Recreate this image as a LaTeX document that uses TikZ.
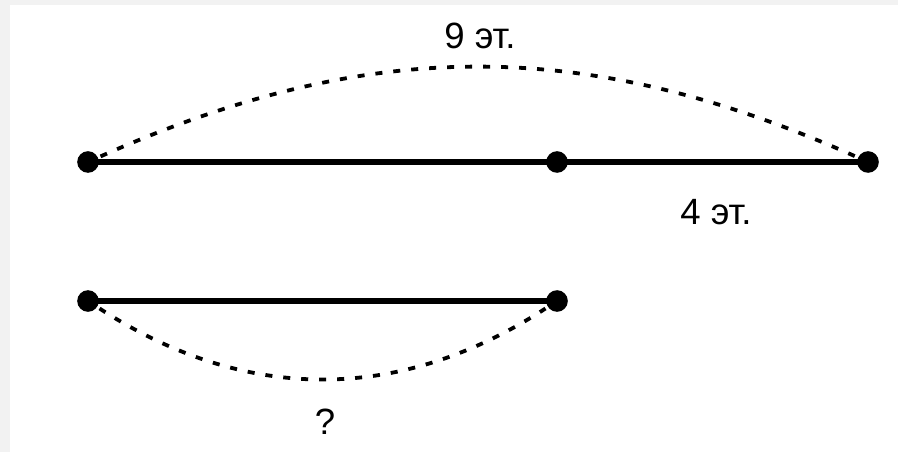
\documentclass[tikz,border=0pt]{standalone}
\usepackage{fontspec}
\setmainfont{Liberation Sans}
\begin{document}
\begin{tikzpicture}[x=.025cm,y=-.025cm,line width=4.2pt,
  dot/.style={circle,fill=black,inner sep=0pt,minimum size=.54cm},
  arc/.style={line width=2.7pt,dash pattern=on 5pt off 7.8pt},
  lbl/.style={font=\fontsize{26}{30}\selectfont}]
  \fill[black!5] (0,0) rectangle (898,452);
  \fill[white] (10,5) rectangle (898,452);
  \useasboundingbox (0,0) rectangle (898,452);
  \node[dot] (a) at (88,162) {};
  \node[dot] (b) at (557,162) {};
  \node[dot] (c) at (868,162) {};
  \node[dot] (d) at (88,301) {};
  \node[dot] (e) at (557,301) {};
  \draw (a.center)--(b.center)--(c.center);
  \draw (d.center)--(e.center);
  \draw[arc] (a) to[bend left=24] (c);
  \draw[arc] (d) to[bend right=33] (e);
  \node[lbl] (top) at (480,36) {9 эт.};
  \node[lbl] (right) at (716,212) {4 эт.};
  \node[lbl] (ask) at (325,422) {?};
\end{tikzpicture}
\end{document}
